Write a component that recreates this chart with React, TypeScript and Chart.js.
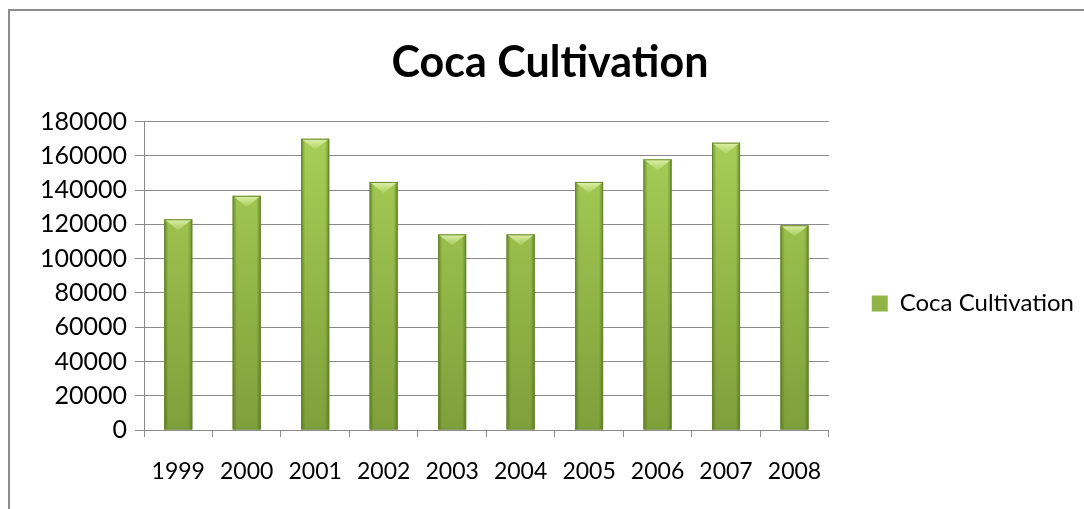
import React, { useEffect, useRef } from "react";
import { Chart, registerables } from "chart.js";

Chart.register(...registerables);

const years = ["1999", "2000", "2001", "2002", "2003", "2004", "2005", "2006", "2007", "2008"];
const cocaValues = [123000, 136700, 170000, 144800, 114200, 114200, 144800, 158000, 167700, 119500];
const seriesName = "Coca Cultivation";
const chartTitle = "Coca Cultivation";
const yMin = 0;
const yMax = 180000;
const yStep = 20000;

const FONT = "Lato, 'Open Sans', sans-serif";
const GRID = "#8a8a8a";

const bevelPlugin = {
  id: "bevel",
  afterDatasetsDraw(chart: any) {
    const ctx = chart.ctx;
    const meta = chart.getDatasetMeta(0);
    meta.data.forEach((bar: any) => {
      const { x, y, base, width } = bar.getProps(["x", "y", "base", "width"], true);
      const l = x - width / 2;
      const r = x + width / 2;
      const h = base - y;
      ctx.save();
      const g = ctx.createLinearGradient(l, 0, r, 0);
      g.addColorStop(0, "rgba(55,85,15,0.5)");
      g.addColorStop(0.15, "rgba(55,85,15,0.0)");
      g.addColorStop(0.85, "rgba(55,85,15,0.0)");
      g.addColorStop(1, "rgba(55,85,15,0.5)");
      ctx.fillStyle = g;
      ctx.fillRect(l, y, width, h);
      const d = Math.min(11, h / 2);
      const tg = ctx.createLinearGradient(0, y, 0, y + d);
      tg.addColorStop(0, "rgba(235,250,190,0.85)");
      tg.addColorStop(1, "rgba(215,240,150,0.25)");
      ctx.beginPath();
      ctx.moveTo(l, y);
      ctx.lineTo(r, y);
      ctx.lineTo(x, y + d);
      ctx.closePath();
      ctx.fillStyle = tg;
      ctx.fill();
      ctx.strokeStyle = "#66862c";
      ctx.lineWidth = 1;
      ctx.strokeRect(l + 0.5, y + 0.5, width - 1, h - 1);
      ctx.restore();
    });
  },
};

export default function App() {
  const ref = useRef<HTMLCanvasElement | null>(null);
  useEffect(() => {
    if (!ref.current) return;
    const chart = new Chart(ref.current, {
      type: "bar",
      data: {
        labels: years,
        datasets: [
          {
            label: seriesName,
            data: cocaValues,
            backgroundColor: (c: any) => {
              const a = c.chart.chartArea;
              if (!a) return "#9bc64b";
              const g = c.chart.ctx.createLinearGradient(0, a.top, 0, a.bottom);
              g.addColorStop(0, "#a9d158");
              g.addColorStop(1, "#7f9f3a");
              return g;
            },
            borderColor: "#66862c",
            borderWidth: 0,
            barPercentage: 0.82,
            categoryPercentage: 0.5,
          },
        ],
      },
      plugins: [bevelPlugin],
      options: {
        animation: false,
        responsive: true,
        maintainAspectRatio: false,
        layout: { padding: { left: 16, right: 0, top: 0, bottom: 0 } },
        plugins: {
          title: {
            display: true,
            text: chartTitle,
            color: "#000",
            font: { family: FONT, size: 43, weight: "bold" },
            padding: { top: 37, bottom: 33 },
          },
          legend: {
            display: true,
            position: "right",
            title: { display: true, text: " ", font: { size: 10 }, padding: { top: 43, bottom: 43 } },
            labels: {
              color: "#000",
              font: { family: FONT, size: 24 },
              boxWidth: 16,
              boxHeight: 16,
              padding: 43,
            },
          },
          tooltip: { enabled: false },
        },
        scales: {
          x: {
            grid: { drawOnChartArea: false, drawTicks: true, tickLength: 7, color: GRID },
            border: { display: true, color: GRID },
            ticks: { color: "#000", font: { family: FONT, size: 23 }, padding: 21, maxRotation: 0 },
            afterFit: (s: any) => {
              s.height = 79;
            },
          },
          y: {
            min: yMin,
            max: yMax,
            ticks: {
              stepSize: yStep,
              color: "#000",
              font: { family: FONT, size: 25 },
              padding: 8,
              callback: (v: any) => String(v),
            },
            grid: { color: GRID, tickLength: 9 },
            border: { display: true, color: GRID },
            afterFit: (s: any) => {
              s.width = 128;
            },
          },
        },
      },
    });
    return () => chart.destroy();
  }, []);
  return (
    <>
      <div
        style={{
          position: "fixed",
          left: 8,
          top: 9,
          width: 1076,
          height: 500,
          boxSizing: "border-box",
          borderTop: "2px solid #8c8c8c",
          borderLeft: "2px solid #8c8c8c",
        }}
      />
      <div style={{ position: "fixed", left: 0, top: 0, width: 1084, height: 509 }}>
        <canvas ref={ref} />
      </div>
    </>
  );
}
